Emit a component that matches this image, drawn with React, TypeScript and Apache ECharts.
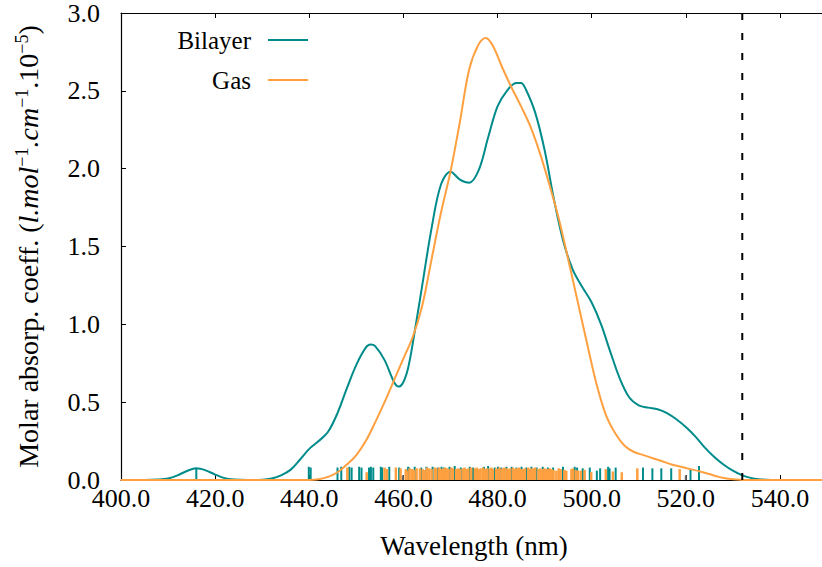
import React, { useEffect, useRef } from "react";
import * as echarts from "echarts";

const bilayerCurve: [number, number][] = [
  [400, 0], [405, 0], [408, 0.003], [410, 0.01], [412, 0.03], [414, 0.058], [416, 0.075], [418, 0.062],
  [420, 0.035], [422, 0.012], [424, 0.003], [427, 0], [430, 0.002], [432, 0.01], [434, 0.03], [436, 0.065],
  [438, 0.13], [440, 0.2], [442, 0.25], [444, 0.31], [446, 0.43], [448, 0.59], [450, 0.74], [452, 0.85],
  [453, 0.87], [454, 0.86], [456, 0.77], [458, 0.63], [459, 0.6], [460, 0.63], [461, 0.72], [462, 0.88],
  [464, 1.25], [466, 1.62], [468, 1.9], [470, 1.98], [472, 1.93], [474, 1.91], [476, 1.99], [478, 2.2],
  [480, 2.4], [482, 2.5], [484, 2.55], [485, 2.55], [486, 2.51], [488, 2.36], [490, 2.12], [492, 1.8],
  [494, 1.53], [496, 1.35], [498, 1.24], [500, 1.14], [502, 1.0], [504, 0.82], [506, 0.65], [508, 0.53],
  [510, 0.48], [512, 0.465], [514, 0.455], [516, 0.43], [518, 0.39], [520, 0.34], [522, 0.28], [524, 0.21],
  [526, 0.15], [528, 0.1], [530, 0.06], [532, 0.03], [534, 0.012], [536, 0.004], [540, 0], [550, 0],
];

const gasCurve: [number, number][] = [
  [400, 0], [440, 0], [442, 0.005], [444, 0.02], [446, 0.05], [448, 0.1], [450, 0.16], [452, 0.25],
  [454, 0.37], [456, 0.5], [458, 0.64], [460, 0.78], [462, 0.92], [464, 1.12], [466, 1.42], [468, 1.72],
  [470, 1.98], [472, 2.3], [474, 2.64], [476, 2.8], [477.5, 2.84], [479, 2.79], [481, 2.65], [483, 2.52],
  [485, 2.4], [487, 2.27], [489, 2.1], [491, 1.9], [493, 1.68], [495, 1.42], [497, 1.15], [499, 0.88],
  [501, 0.62], [503, 0.42], [505, 0.3], [507, 0.22], [509, 0.18], [511, 0.16], [513, 0.14], [515, 0.12],
  [517, 0.1], [519, 0.085], [521, 0.07], [523, 0.055], [525, 0.038], [527, 0.02], [529, 0.008], [532, 0],
  [550, 0],
];

const bilayerSticks: [number, number][] = [
  [416.0, 0.075], [439.9, 0.085], [440.3, 0.08], [446.0, 0.08], [446.8, 0.085], [448.5, 0.085], [449.0, 0.08],
  [450.6, 0.085], [451.1, 0.08], [452.7, 0.08], [453.1, 0.085], [453.6, 0.08], [455.2, 0.085], [455.5, 0.08],
  [457.0, 0.085], [459.1, 0.08], [461.0, 0.085], [461.2, 0.08], [462.4, 0.085], [463.8, 0.08], [464.9, 0.085],
  [466.2, 0.085], [467.3, 0.08], [468.1, 0.085], [468.6, 0.08], [469.8, 0.085], [470.9, 0.09], [472.2, 0.08],
  [474.1, 0.085], [474.8, 0.08], [477.1, 0.085], [478.0, 0.09], [479.4, 0.08], [480.1, 0.085], [480.8, 0.08],
  [481.9, 0.085], [483.0, 0.085], [484.0, 0.08], [485.1, 0.085], [486.1, 0.08], [487.2, 0.085], [488.3, 0.08],
  [489.6, 0.085], [490.7, 0.08], [491.8, 0.08], [493.9, 0.085], [496.4, 0.085], [496.9, 0.08], [498.1, 0.075],
  [499.6, 0.08], [501.1, 0.06], [501.8, 0.075], [503.5, 0.085], [503.8, 0.075], [505.1, 0.08], [510.9, 0.08],
  [512.9, 0.075], [514.8, 0.075], [516.9, 0.075], [521.0, 0.07], [522.8, 0.09],
];

const gasSticks: [number, number][] = [
  [448.1, 0.08], [452.2, 0.05], [456.0, 0.08], [456.5, 0.07], [458.4, 0.08], [459.4, 0.075], [460.5, 0.07],
  [460.8, 0.06], [461.3, 0.075], [461.8, 0.07], [462.2, 0.065], [462.8, 0.075], [463.5, 0.075], [464.1, 0.07],
  [464.5, 0.065], [465.0, 0.08], [465.5, 0.075], [466.0, 0.07], [466.7, 0.08], [467.0, 0.075], [467.6, 0.08],
  [468.0, 0.07], [468.4, 0.075], [468.9, 0.08], [469.3, 0.075], [469.6, 0.07], [470.2, 0.08], [470.5, 0.075],
  [471.2, 0.07], [471.6, 0.075], [472.0, 0.07], [472.6, 0.075], [473.0, 0.08], [473.4, 0.07], [473.8, 0.075],
  [474.4, 0.08], [475.2, 0.075], [475.6, 0.08], [476.0, 0.07], [476.4, 0.075], [476.9, 0.08], [477.3, 0.07],
  [477.7, 0.075], [478.3, 0.075], [478.7, 0.08], [479.0, 0.07], [479.7, 0.075], [480.0, 0.07], [480.4, 0.08],
  [480.9, 0.07], [481.1, 0.075], [481.5, 0.08], [482.0, 0.075], [482.3, 0.07], [482.7, 0.075], [483.3, 0.08],
  [483.6, 0.07], [484.0, 0.075], [484.3, 0.075], [484.6, 0.08], [485.0, 0.07], [485.4, 0.07], [485.8, 0.075],
  [486.5, 0.08], [486.8, 0.07], [487.2, 0.075], [487.6, 0.075], [488.0, 0.08], [488.7, 0.07], [489.1, 0.075],
  [489.3, 0.065], [489.7, 0.07], [490.0, 0.075], [490.3, 0.07], [490.7, 0.07], [491.1, 0.075], [491.5, 0.07],
  [491.9, 0.065], [492.5, 0.06], [493.0, 0.075], [493.4, 0.07], [494.2, 0.065], [494.6, 0.06], [495.7, 0.07],
  [496.0, 0.075], [496.6, 0.065], [497.1, 0.06], [497.7, 0.06], [498.5, 0.065], [499.9, 0.05], [503.0, 0.07],
  [504.5, 0.055], [506.4, 0.05], [509.7, 0.075], [518.7, 0.07],
];

const otherSticks: [number, number][] = [[459.9, 0.03], [520.0, 0.03]];

const laserLine: [number, number][] = [[532, 0], [532, 3]];

const legendItems = ["Bilayer", "Gas"];
const TEAL = "#008b8b";
const ORANGE = "#ffa040";
const FONT = "Liberation Serif";

function stickSeries(name: string, data: [number, number][], color: string, width: number) {
  return {
    type: "custom",
    name,
    data,
    encode: { x: 0, y: 1 },
    z: 3,
    renderItem: (_p: any, api: any) => {
      const x = api.value(0);
      const h = api.value(1);
      const a = api.coord([x, 0]);
      const b = api.coord([x, h]);
      return {
        type: "line",
        shape: { x1: a[0], y1: a[1], x2: b[0], y2: b[1] },
        style: { stroke: color, lineWidth: width },
      };
    },
  };
}

export default function App() {
  const ref = useRef<HTMLDivElement>(null);
  useEffect(() => {
    if (!ref.current) return;
    const chart = echarts.init(ref.current, null, { renderer: "svg" });
    const axisCommon = {
      type: "value",
      min: 400,
      max: 550,
      interval: 20,
      axisLine: { show: true, lineStyle: { color: "#000", width: 1.2 } },
      axisTick: { show: true, inside: true, length: 5, lineStyle: { color: "#000" } },
      splitLine: { show: false },
    };
    chart.setOption({
      animation: false,
      backgroundColor: "#fff",
      textStyle: { fontFamily: FONT },
      grid: { left: 121, top: 13, right: 0, bottom: 87 },
      xAxis: [
        {
          ...axisCommon,
          position: "bottom",
          name: "Wavelength (nm)",
          nameLocation: "middle",
          nameGap: 52,
          nameTextStyle: { fontFamily: FONT, fontSize: 27, color: "#000" },
          axisLabel: {
            showMaxLabel: false,
            margin: 5,
            fontFamily: FONT,
            fontSize: 26,
            color: "#000",
            formatter: (v: number) => (v % 20 === 0 ? v.toFixed(1) : ""),
          },
        },
        {
          ...axisCommon,
          position: "top",
          axisLabel: { show: false },
        },
      ],
      yAxis: {
        type: "value",
        min: 0,
        max: 3,
        interval: 0.5,
        axisLine: { show: true, lineStyle: { color: "#000", width: 1.2 } },
        axisTick: { show: true, inside: true, length: 5, lineStyle: { color: "#000" } },
        splitLine: { show: false },
        axisLabel: {
          margin: 21,
          fontFamily: FONT,
          fontSize: 26,
          color: "#000",
          formatter: (v: number) => v.toFixed(1),
        },
        name:
          "{a|Molar absorp. coeff. (}{i|l.mol}{s|−1}{i|.cm}{s|−1}{a|.10}{s|−5}{a|)}",
        nameLocation: "middle",
        nameGap: 78,
        nameTextStyle: {
          fontFamily: FONT,
          fontSize: 28,
          rich: {
            a: { fontFamily: FONT, fontSize: 28, color: "#000", lineHeight: 30 },
            i: { fontFamily: FONT, fontSize: 28, fontStyle: "italic", color: "#000", lineHeight: 30 },
            s: { fontFamily: FONT, fontSize: 18, color: "#000", verticalAlign: "top", lineHeight: 30 },
          },
        },
      },
      series: [
        stickSeries("BilayerSticks", bilayerSticks, TEAL, 2),
        stickSeries("GasSticks", gasSticks, ORANGE, 2.5),
        stickSeries("OtherSticks", otherSticks, "#666", 2),
        {
          type: "line",
          name: legendItems[0],
          data: bilayerCurve,
          showSymbol: false,
          smooth: 0.35,
          z: 4,
          lineStyle: { color: TEAL, width: 2 },
        },
        {
          type: "line",
          name: legendItems[1],
          data: gasCurve,
          showSymbol: false,
          smooth: 0.35,
          z: 4,
          lineStyle: { color: ORANGE, width: 2 },
        },
        {
          type: "line",
          name: "532",
          data: laserLine,
          showSymbol: false,
          z: 5,
          lineStyle: { color: "#000", width: 2, type: [7, 13] },
        },
      ],
      graphic: [
        {
          type: "text",
          x: 251,
          y: 40,
          style: { text: legendItems[0], fontFamily: FONT, fontSize: 25, fill: "#000", align: "right", verticalAlign: "middle" },
        },
        { type: "line", shape: { x1: 268, y1: 40, x2: 308, y2: 40 }, style: { stroke: TEAL, lineWidth: 2 } },
        {
          type: "text",
          x: 251,
          y: 80,
          style: { text: legendItems[1], fontFamily: FONT, fontSize: 25, fill: "#000", align: "right", verticalAlign: "middle" },
        },
        { type: "line", shape: { x1: 268, y1: 80, x2: 308, y2: 80 }, style: { stroke: ORANGE, lineWidth: 2 } },
      ],
    });
    return () => chart.dispose();
  }, []);
  return (
    <div style={{ position: "fixed", left: 0, top: 0, width: 822, height: 567, overflow: "hidden" }}>
      <div ref={ref} style={{ width: 827, height: 567 }} />
    </div>
  );
}
